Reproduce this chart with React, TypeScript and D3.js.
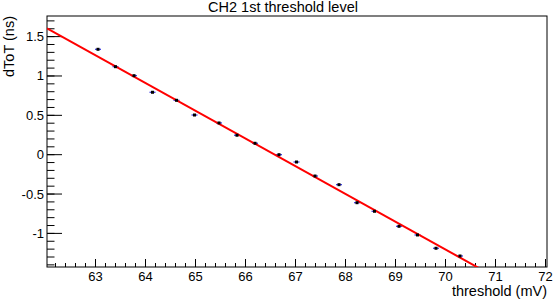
import React from "react";
import * as d3 from "d3";

const thresholds = [63.05, 63.40, 63.77, 64.14, 64.62, 64.98, 65.47, 65.83, 66.19, 66.67, 67.02, 67.39, 67.87, 68.23, 68.58, 69.07, 69.44, 69.81, 70.29];
const dtot = [1.339, 1.118, 1.004, 0.793, 0.691, 0.504, 0.403, 0.247, 0.145, 0.0, -0.093, -0.271, -0.381, -0.610, -0.719, -0.910, -1.020, -1.189, -1.287];
const xErr = [0.06, 0.06, 0.06, 0.06, 0.06, 0.06, 0.06, 0.06, 0.06, 0.06, 0.06, 0.06, 0.06, 0.06, 0.06, 0.06, 0.06, 0.06, 0.06];
const fitIntercept = 1.606;
const fitSlope = -0.3527;
const fitX0 = 62.03;
const xTicks = [63, 64, 65, 66, 67, 68, 69, 70, 71, 72];
const yTicks = [-1, -0.5, 0, 0.5, 1, 1.5];

const W = 554, H = 299;
const L = 47, R = 547, T = 16, B = 267;
const FONT = "'Liberation Sans', Arial, Helvetica, sans-serif";

export default function App() {
  const x = d3.scaleLinear().domain([62.03, 72.03]).range([L, R]);
  const y = d3.scaleLinear().domain([-1.427, 1.762]).range([B, T]);
  const xMinor = d3.range(62.2, 72.03, 0.2).filter((v) => v > 62.03 && v < 72.03);
  const yMinor = d3.range(-1.4, 1.762, 0.1).filter((v) => v > -1.427 && v < 1.762);
  const fitXs = [fitX0, 72.03];
  const line = d3.line<number>().x((v) => x(v)).y((v) => y(fitIntercept + fitSlope * (v - fitX0)));
  return (
    <svg width={W} height={H} style={{ display: "block", position: "absolute", left: 0, top: 0 }} fontFamily={FONT}>
      <rect x={0} y={0} width={W} height={H} fill="#fff" />
      <defs>
        <clipPath id="frame">
          <rect x={L} y={T} width={R - L} height={B - T} />
        </clipPath>
      </defs>
      <text x={283} y={11.5} textAnchor="middle" fontSize={14.5} fill="#000">CH2 1st threshold level</text>
      {xMinor.map((v, i) => (
        <line key={"xm" + i} x1={x(v)} x2={x(v)} y1={B} y2={B - 4} stroke="#000" strokeWidth={1} />
      ))}
      {xTicks.map((v) => (
        <g key={"xt" + v}>
          <line x1={x(v)} x2={x(v)} y1={B} y2={B - 8} stroke="#000" strokeWidth={1} />
          <text x={x(v)} y={B + 13.5} textAnchor="middle" fontSize={13} fill="#000">{v}</text>
        </g>
      ))}
      {yMinor.map((v, i) => (
        <line key={"ym" + i} x1={L} x2={L + 7.5} y1={y(v)} y2={y(v)} stroke="#000" strokeWidth={1} />
      ))}
      {yTicks.map((v) => (
        <g key={"yt" + v}>
          <line x1={L} x2={L + 15} y1={y(v)} y2={y(v)} stroke="#000" strokeWidth={1} />
          <text x={L - 3} y={y(v) + 4.5} textAnchor="end" fontSize={13} fill="#000">{String(v)}</text>
        </g>
      ))}
      <rect x={L} y={T} width={R - L} height={B - T} fill="none" stroke="#000" strokeWidth={1} />
      <text x={R} y={296} textAnchor="end" fontSize={14.5} fill="#000">threshold (mV)</text>
      <text transform={`translate(13.5, ${T}) rotate(-90)`} textAnchor="end" fontSize={14.5} fill="#000">dToT (ns)</text>
      <g clipPath="url(#frame)">
        {thresholds.map((t, i) => (
          <line key={"e" + i} x1={x(t - xErr[i])} x2={x(t + xErr[i])} y1={y(dtot[i])} y2={y(dtot[i])} stroke="#3030e0" strokeWidth={1.2} />
        ))}
        <path d={line(fitXs) || ""} fill="none" stroke="#ff0000" strokeWidth={2} />
        {thresholds.map((t, i) => (
          <rect key={"m" + i} x={x(t) - 1.5} y={y(dtot[i]) - 1.5} width={3} height={3} fill="#000" />
        ))}
      </g>
    </svg>
  );
}
